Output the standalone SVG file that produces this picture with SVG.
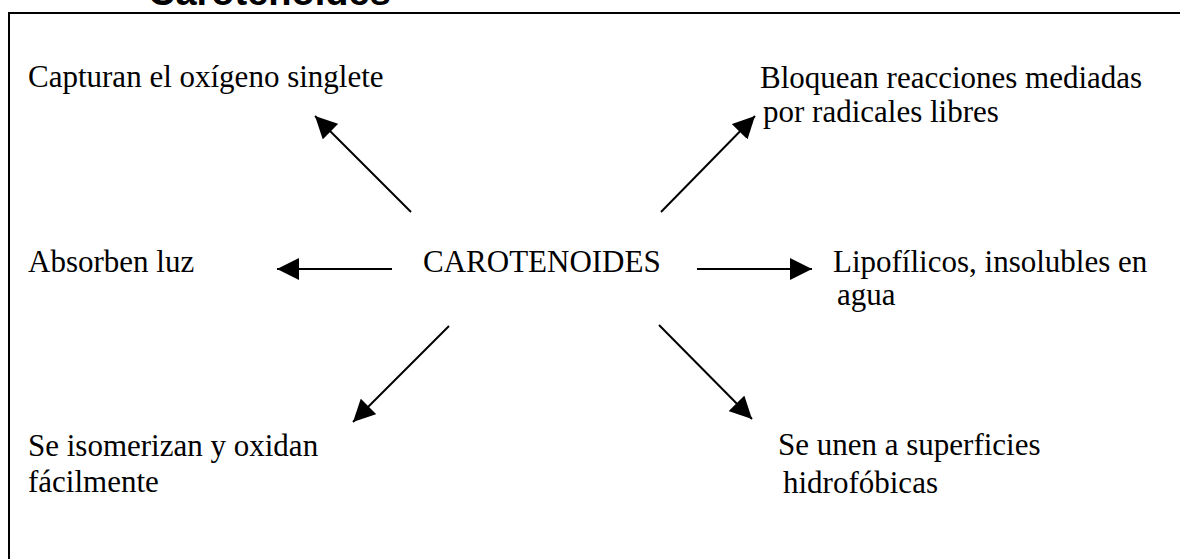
<svg xmlns="http://www.w3.org/2000/svg" width="1180" height="559" viewBox="0 0 1180 559">
<style>
.t{font-family:"Liberation Serif","Times New Roman",serif;font-size:31px;fill:#000}
.title{font-family:"Liberation Sans",Arial,sans-serif;font-size:38px;font-weight:bold;fill:#000}
.c{stroke:#000;stroke-width:2;fill:none;marker-end:url(#ah)}
</style>
<defs>
<marker id="ah" markerUnits="userSpaceOnUse" markerWidth="24" markerHeight="22" refX="22" refY="11" orient="auto">
<path d="M0,0 L22,11 L0,22 Z" fill="#000"/>
</marker>
</defs>
<rect x="0" y="0" width="1180" height="559" fill="#fff"/>
<text class="title" x="148" y="5">Carotenoides</text>
<rect x="9" y="13" width="1200" height="600" fill="none" stroke="#000" stroke-width="2"/>
<g id="center"><text class="t" x="423" y="272">CAROTENOIDES</text></g>
<g id="n-capturan"><text class="t" x="28" y="87">Capturan el oxígeno singlete</text></g>
<g id="n-bloquean"><text class="t" x="760" y="88">Bloquean reacciones mediadas</text><text class="t" x="763" y="122">por radicales libres</text></g>
<g id="n-absorben"><text class="t" x="28" y="272">Absorben luz</text></g>
<g id="n-lipofilicos"><text class="t" x="833" y="272">Lipofílicos, insolubles en</text><text class="t" x="837" y="305">agua</text></g>
<g id="n-isomerizan"><text class="t" x="28" y="456">Se isomerizan y oxidan</text><text class="t" x="28" y="492">fácilmente</text></g>
<g id="n-unen"><text class="t" x="778" y="455">Se unen a superficies</text><text class="t" x="783" y="493">hidrofóbicas</text></g>
<g id="connectors">
<line class="c" x1="411" y1="212" x2="315" y2="116"/>
<line class="c" x1="661" y1="212" x2="755" y2="116"/>
<line class="c" x1="392" y1="269" x2="277" y2="269"/>
<line class="c" x1="697" y1="269" x2="812" y2="269"/>
<line class="c" x1="449" y1="326" x2="353" y2="422"/>
<line class="c" x1="659" y1="325" x2="752" y2="419"/>
</g>
</svg>
